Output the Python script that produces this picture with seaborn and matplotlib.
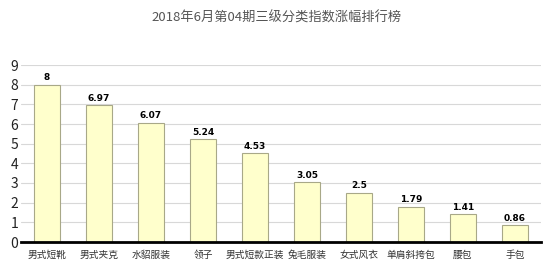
import matplotlib
matplotlib.use("Agg")
import matplotlib.pyplot as plt
import seaborn as sns
import pandas as pd
import numpy as np

categories = ["男式短靴", "男式夹克", "水貂服装", "领子", "男式短款正装", "兔毛服装", "女式风衣", "单肩斜挎包", "腰包", "手包"]
values = [8, 6.97, 6.07, 5.24, 4.53, 3.05, 2.5, 1.79, 1.41, 0.86]
value_labels = ["8", "6.97", "6.07", "5.24", "4.53", "3.05", "2.5", "1.79", "1.41", "0.86"]
title = "2018年6月第04期三级分类指数涨幅排行榜"

sns.set_theme(style="white")
plt.rcParams['font.family'] = ['Noto Sans CJK SC', 'DejaVu Sans']

df = pd.DataFrame({"cat": categories, "val": values})

fig = plt.figure(figsize=(5.54, 2.77), dpi=100)
ax = fig.add_axes([21/554, 1-242/277, 520/554, (242-65)/277])

sns.barplot(data=df, x="cat", y="val", ax=ax, color="#FFFFCC", width=0.5,
            edgecolor="#A8A888", linewidth=0.8, saturation=1, zorder=3)

ax.set_ylim(0, 9)
ax.set_xlim(-0.5, len(categories) - 0.5)
ax.set_yticks(range(0, 10))
ax.yaxis.grid(True, color="#D8D8D8", linewidth=0.8, zorder=0)
ax.set_axisbelow(True)
for s in ["left", "right", "top"]:
    ax.spines[s].set_visible(False)
ax.spines["bottom"].set_color("black")
ax.spines["bottom"].set_linewidth(2)
ax.spines["bottom"].set_zorder(5)

ax.set_xlabel("")
ax.set_ylabel("")
ax.tick_params(axis="y", labelsize=10, length=0, pad=2, colors="#222222")
ax.set_xticks(np.arange(len(categories)))
ax.set_xticklabels(categories, fontsize=7, color="#333333")
ax.tick_params(axis="x", length=0, pad=6)
# minor ticks at category boundaries
ax.set_xticks(np.arange(-0.5, len(categories) + 0.5, 1), minor=True)
ax.tick_params(axis="x", which="minor", length=4, width=1.5, color="black", direction="out")

for i, (v, lab) in enumerate(zip(values, value_labels)):
    ax.text(i, v + 0.12, lab, ha="center", va="bottom", fontsize=6.5,
            fontweight="bold", color="black", family="DejaVu Sans")

fig.text(0.5, 1-18/277, title, ha="center", va="center", fontsize=9.5, color="#555555")

fig.savefig("out.png", dpi=100, facecolor="white")
